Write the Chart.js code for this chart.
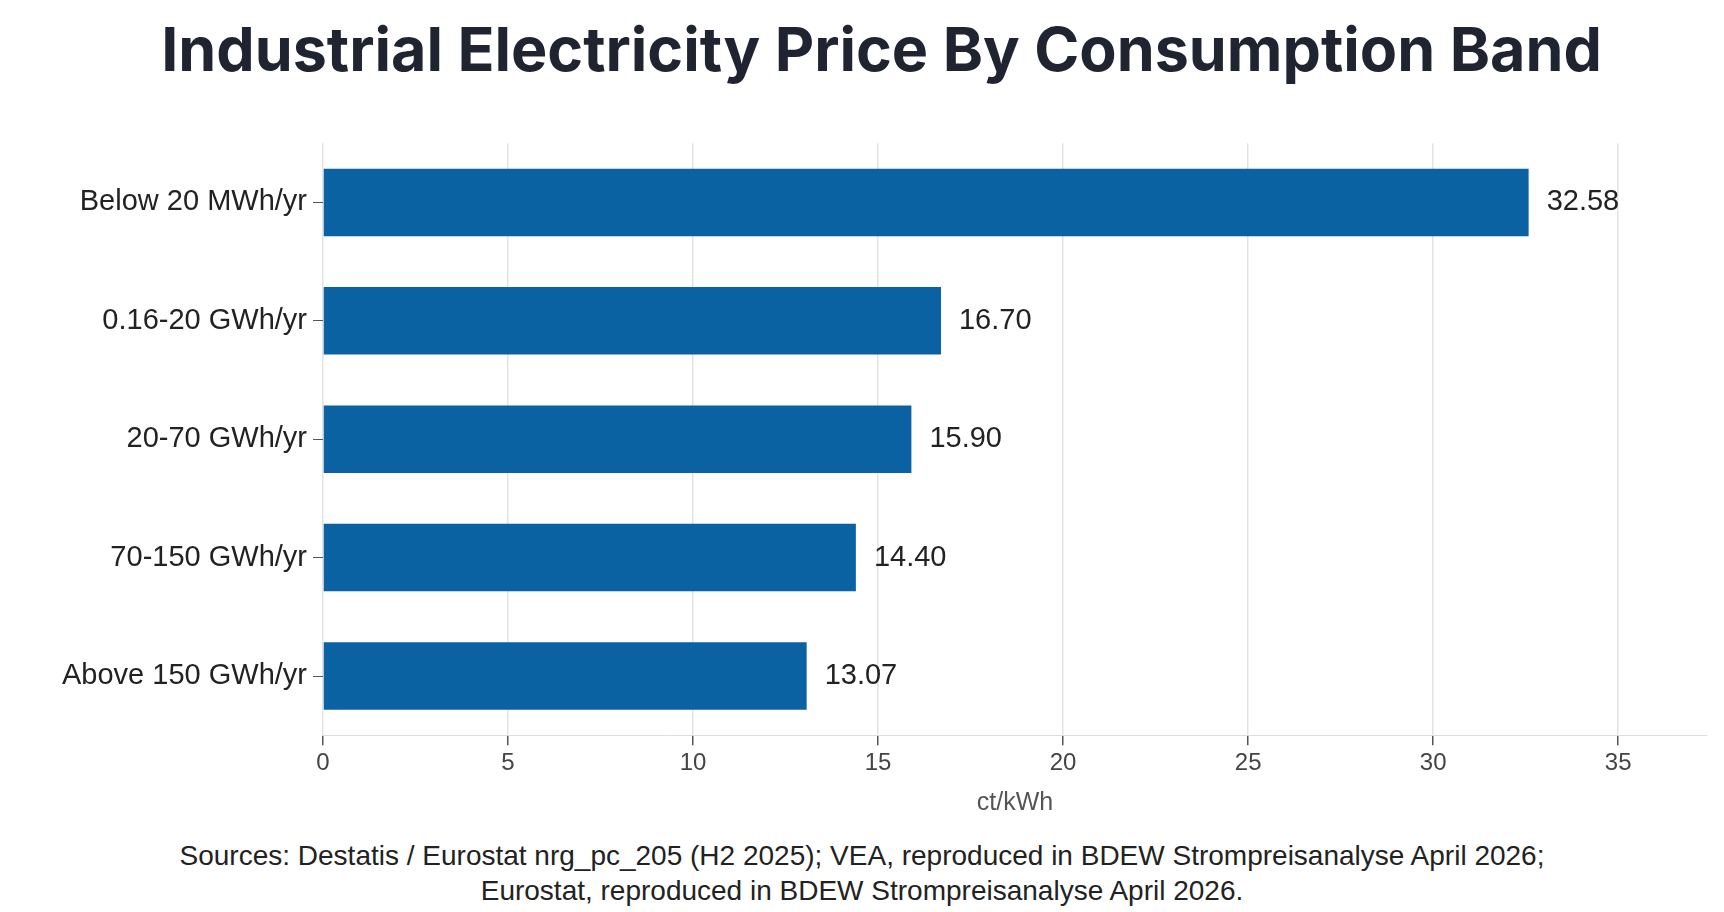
<!DOCTYPE html>
<html>
<head>
<meta charset="utf-8">
<script src="https://cdn.jsdelivr.net/npm/chart.js@4"></script>
<style>
  body { margin: 0; background: #fff; width: 1724px; height: 912px; overflow: hidden; position: relative; }
  #wrap { position: absolute; left: 0; top: 0; width: 1724px; height: 822px; }
  #sources { position: absolute; left: 0; top: 838px; width: 1724px; text-align: center;
    font-family: "Liberation Sans", Arial, sans-serif; font-size: 28px; line-height: 35px; color: #222; }
</style>
</head>
<body>
<div id="wrap"><canvas id="chart"></canvas></div>
<div id="sources">Sources: Destatis / Eurostat nrg_pc_205 (H2 2025); VEA, reproduced in BDEW Strompreisanalyse April 2026;<br>Eurostat, reproduced in BDEW Strompreisanalyse April 2026.</div>
<script>
// Consumption bands and prices (ct/kWh)
var bands = ['Below 20 MWh/yr', '0.16-20 GWh/yr', '20-70 GWh/yr', '70-150 GWh/yr', 'Above 150 GWh/yr'];
var prices = [32.58, 16.70, 15.90, 14.40, 13.07];
var priceLabels = ['32.58', '16.70', '15.90', '14.40', '13.07'];

// Draw the value text right of each bar
var valueLabels = {
    id: 'valueLabels',
    afterDatasetsDraw: function (chart) {
        var ctx = chart.ctx;
        var meta = chart.getDatasetMeta(0);
        ctx.save();
        ctx.font = '29px "Liberation Sans", Arial, sans-serif';
        ctx.fillStyle = '#222';
        ctx.textBaseline = 'middle';
        meta.data.forEach(function (bar, i) {
            ctx.fillText(priceLabels[i], bar.x + 18, bar.y);
        });
        ctx.restore();
    }
};

new Chart(document.getElementById('chart'), {
    type: 'bar',
    data: {
        labels: bands,
        datasets: [{
            data: prices,
            backgroundColor: '#0b62a3',
            barPercentage: 0.57,
            categoryPercentage: 1.0
        }]
    },
    plugins: [valueLabels],
    options: {
        indexAxis: 'y',
        responsive: true,
        maintainAspectRatio: false,
        animation: false,
        layout: { padding: { left: 56, right: 17, top: 0, bottom: 0 } },
        plugins: {
            legend: { display: false },
            tooltip: { enabled: false },
            title: {
                display: true,
                text: 'Industrial Electricity Price By Consumption Band',
                color: '#1f2430',
                font: { family: 'Inter, Roboto, sans-serif', size: 61, weight: 'bold' },
                padding: { top: 16, bottom: 54 }
            }
        },
        scales: {
            x: {
                min: 0,
                max: 37.4,
                afterBuildTicks: function (axis) {
                    axis.ticks = [0, 5, 10, 15, 20, 25, 30, 35].map(function (v) { return { value: v }; });
                },
                grid: { color: '#e3e3e3', lineWidth: 1.5, tickLength: 10, tickColor: '#555' },
                border: { display: true, color: '#ddd' },
                ticks: { color: '#444', font: { family: '"Liberation Sans", Arial, sans-serif', size: 24 }, padding: 4 },
                title: {
                    display: true, text: 'ct/kWh', color: '#555',
                    font: { family: '"Liberation Sans", Arial, sans-serif', size: 25 }, padding: { top: 6 }
                }
            },
            y: {
                grid: { display: true, offset: false, drawOnChartArea: false, tickLength: 10, tickColor: '#555' },
                border: { display: false },
                ticks: { color: '#222', font: { family: '"Liberation Sans", Arial, sans-serif', size: 29 }, padding: 6 }
            }
        }
    }
});
</script>
</body>
</html>
